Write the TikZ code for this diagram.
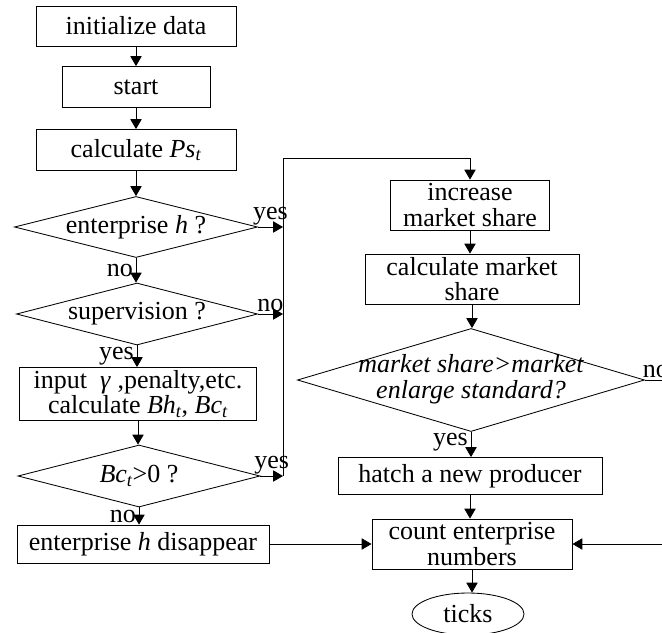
\documentclass[tikz,border=0pt]{standalone}
\usepackage{fontspec}
\setmainfont{Liberation Serif}
\usetikzlibrary{arrows.meta,shapes.geometric}

\tikzset{
  box/.style={draw, rectangle, inner sep=2pt, align=center},
  dia/.style={draw, diamond, inner sep=0pt, aspect=1},
  arr/.style={-{Triangle[length=7pt,width=8pt]}},
  lab/.style={inner sep=2pt}
}

\begin{document}
\begin{tikzpicture}[x=0.025cm, y=-0.025cm, line width=0.6pt,
  font=\fontsize{18.5}{18}\selectfont]

\useasboundingbox (0,0) rectangle (662,632);
\clip (0,0) rectangle (662,632);

% left column
\node[box, minimum width=5cm, minimum height=1cm] (init) at (136,26) {initialize data};
\node[box, minimum width=3.7cm, minimum height=1.025cm] (start) at (136,87) {start};
\node[box, minimum width=5cm, minimum height=1.025cm] (calcps) at (136,150) {calculate \textit{Ps\textsubscript{t}}};
\node[dia, minimum width=6.075cm, minimum height=1.525cm] (ent) at (136,227) {\makebox[0pt]{enterprise \textit{h} ?}};
\node[dia, minimum width=6.025cm, minimum height=1.55cm] (sup) at (137,314) {\makebox[0pt]{supervision ?}};
\node[box, minimum width=5.925cm, minimum height=1.225cm] (input) at (138,394) {input~~\textit{γ} ,penalty,etc.\\calculate \textit{Bh\textsubscript{t}}, \textit{Bc\textsubscript{t}}};
\node[dia, minimum width=6.05cm, minimum height=1.55cm] (bc) at (139,476) {\makebox[0pt]{\textit{Bc\textsubscript{t}}>0 ?}};
\node[box, minimum width=6.3cm, minimum height=0.95cm] (dis) at (143,544) {enterprise \textit{h} disappear};

% right column
\node[box, minimum width=3.975cm, minimum height=1.25cm] (inc) at (470,205) {increase\\market share};
\node[box, minimum width=5.35cm, minimum height=1.25cm] (cms) at (472,279) {calculate market\\share};
\node[dia, minimum width=8.675cm, minimum height=2.575cm] (big) at (471,380)
  {\makebox[0pt]{\itshape\begin{tabular}{@{}c@{}}market share>market\\enlarge standard?\end{tabular}}};
\node[box, minimum width=6.6cm, minimum height=0.925cm] (hatch) at (470,476) {hatch a new producer};
\node[box, minimum width=5cm, minimum height=1.25cm] (cnt) at (472,544) {count enterprise\\numbers};
\node[draw, ellipse, inner sep=0pt, minimum width=2.8cm, minimum height=1.05cm] (ticks) at (468,614) {ticks};

% bus line and the free end on the right
\coordinate (bustop) at (283,158);
\coordinate (edge) at (700,380);

% arrows of the left column
\draw[arr] (init.south) -- (init.south |- start.north);
\draw[arr] (start.south) -- (start.south |- calcps.north);
\draw[arr] (calcps.south) -- (calcps.south |- ent.north);
\draw[arr] (ent.south) -- node[lab, left] {no} (ent.south |- sup.north);
\draw[arr] (sup.south) -- node[lab, left] {yes} (sup.south |- input.north);
\draw[arr] (input.south) -- (input.south |- bc.north);
\draw[arr] (bc.south) -- node[lab, left] {no} (bc.south |- dis.north);

% arrows into the bus
\draw[arr] (ent.east) -- node[lab, above, inner sep=1pt] {yes} (ent.east -| bustop);
\draw[arr] (sup.east) -- node[lab, above, inner sep=1pt] {no} (sup.east -| bustop);
\draw[arr] (bc.east) -- node[lab, above, inner sep=1pt] {yes} (bc.east -| bustop);
\draw[arr] (bc.east -| bustop) -- (bustop) -| (inc.north);

% arrows of the right column
\draw[arr] (inc.south) -- (inc.south |- cms.north);
\draw[arr] (cms.south) -- (cms.south |- big.north);
\draw[arr] (big.south) -- node[lab, left, pos=0.4] {yes} (big.south |- hatch.north);
\draw[arr] (hatch.south) -- (hatch.south |- cnt.north);
\draw[arr] (dis) -- (cnt);
\draw[arr] (cnt.south) -- (cnt.south |- ticks.north);
\draw[arr] (big.east) -- node[lab, pos=0, anchor=south west, inner sep=1pt, xshift=-0.1cm] {no} (edge) |- (cnt.east);

\end{tikzpicture}
\end{document}
